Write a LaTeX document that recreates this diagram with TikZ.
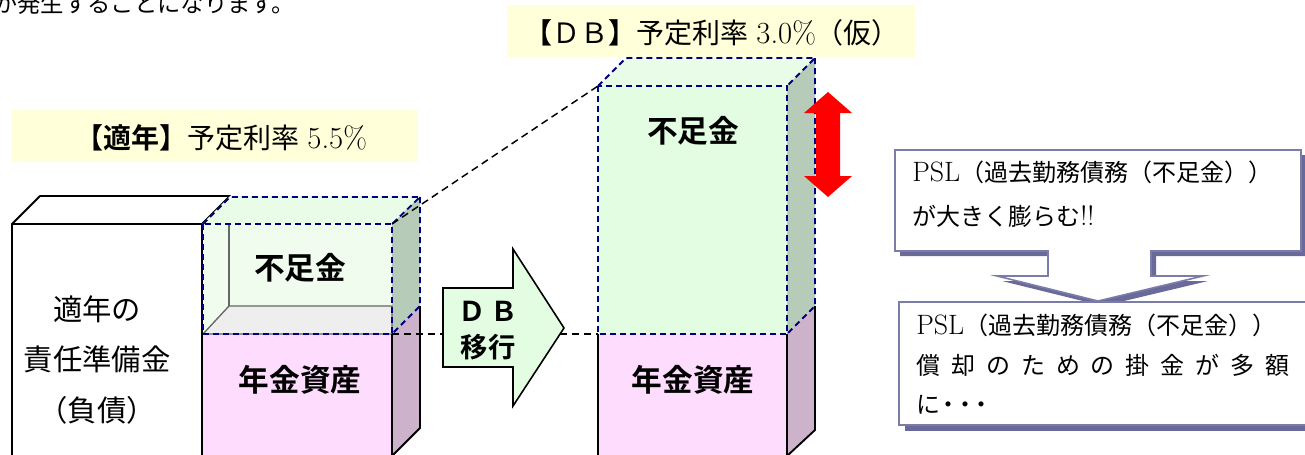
\documentclass[tikz,border=0pt]{standalone}
\usepackage{fontspec}
\newfontfamily\jp{Noto Sans CJK JP}[BoldFont={Noto Sans CJK JP Bold}]
\definecolor{lblyellow}{HTML}{FFFFD9}
\definecolor{greenA}{HTML}{F0FDEE}
\definecolor{greenB}{HTML}{E2FDE2}
\definecolor{greenTop}{HTML}{E9FCE7}
\definecolor{greenSide}{HTML}{B6CCB8}
\definecolor{pinkFront}{HTML}{FDDCFD}
\definecolor{pinkSide}{HTML}{CDB2CC}
\definecolor{floorGray}{HTML}{EEEEEE}
\definecolor{navyD}{HTML}{000080}
\definecolor{callBorder}{HTML}{7C7CAA}
\definecolor{callShadow}{HTML}{6A6A9A}
\definecolor{redArrow}{HTML}{FF0000}
\newcommand{\mydot}{\makebox[12.5pt]{・}}
\newcommand{\lmbig}[1]{{\rmfamily\fontsize{23}{27}\selectfont #1}}
\begin{document}
\begin{tikzpicture}[x=0.75pt,y=-0.75pt,
  lblbox/.style={fill=lblyellow,inner sep=0pt,minimum height=39pt},
  solidedge/.style={draw=black,line width=1.4pt,line join=round},
  navydash/.style={draw=navyD,line width=1.4pt,dash pattern=on 4.5pt off 3pt},
  blackdash/.style={draw=black,line width=1.1pt,dash pattern=on 5.5pt off 3.5pt},
  boxlabel/.style={font=\jp\bfseries\fontsize{23}{27}\selectfont,inner sep=0pt},
  calltext/.style={font=\jp\fontsize{18}{33}\selectfont,anchor=north west,align=left,inner sep=0pt},
  callshape/.style={fill=white,draw=callBorder,line width=1.2pt},
  callshadow/.style={fill=callShadow}]
\useasboundingbox (0,0) rectangle (1305,454);
\clip (0,0) rectangle (1305,454);

% intro text (cut at top)
\node[anchor=west,inner sep=0pt,font=\jp\fontsize{17.5}{20}\selectfont] (intro) at (-6,4) {が発生することになります。};

% labels
\node[lblbox,minimum width=304.5pt] (lbl1) at (215,136) {};
\node[inner sep=0pt,font=\fontsize{21}{24}\selectfont] (lbl1t) at (221,138) {{\jp\bfseries 【適年】}{\jp 予定利率} \lmbig{5.5\%}};
\node[lblbox,minimum width=306pt] (lbl2) at (711,31) {};
\node[inner sep=0pt,font=\fontsize{21}{24}\selectfont] (lbl2t) at (712,33) {{\jp\bfseries 【}{\jp ＤＢ}{\jp\bfseries 】}{\jp 予定利率} \lmbig{3.0\%}{\jp （仮）}};

% ---------- left liability box ----------
\draw[solidedge,fill=white] (12,470) -- (12,224) -- (202,224) -- (202,470);
\draw[solidedge,fill=white] (12,224) -- (40,196) -- (230,196) -- (202,224) -- cycle;
\node[font=\jp\fontsize{22}{38}\selectfont,align=center,inner sep=0pt] (liab) at (97,360) {適年の\\責任準備金\\（負債）};

% ---------- middle column ----------
\fill[pinkFront] (202,334) rectangle (392,470);
\fill[pinkSide] (392,334) -- (420,306) -- (420,428) -- (392,456) -- cycle;
\fill[greenA] (202,224) rectangle (392,334);
\fill[greenTop] (202,224) -- (230,196) -- (420,196) -- (392,224) -- cycle;
\fill[greenSide] (392,224) -- (420,196) -- (420,306) -- (392,334) -- cycle;
\draw[fill=floorGray,draw=gray!80!black,line width=1pt] (203,334) -- (229,306) -- (392,306) -- (392,334) -- cycle;
\draw[draw=gray!80!black,line width=1pt] (229,225) -- (229,306);
\draw[solidedge] (202,224) -- (202,470);
\draw[solidedge] (392,334) -- (392,470);
\draw[solidedge] (420,306) -- (420,428) -- (392,456);
\draw[navydash] (203,224) rectangle (392,334);
\draw[navydash] (203,224) -- (230,197) -- (420,197) -- (392,224);
\draw[navydash] (420,197) -- (420,306) -- (392,334);
\node[boxlabel] (short1) at (300,268) {不足金};
\node[boxlabel] (asset1) at (300,380) {年金資産};

% ---------- right column ----------
\fill[pinkFront] (598,334) rectangle (787,470);
\fill[pinkSide] (787,334) -- (815,306) -- (815,430) -- (787,456) -- cycle;
\fill[greenB] (598,86) rectangle (787,334);
\fill[greenTop] (598,86) -- (626,58) -- (815,58) -- (787,86) -- cycle;
\fill[greenSide] (787,86) -- (815,58) -- (815,306) -- (787,334) -- cycle;
\draw[solidedge] (598,334) -- (598,470);
\draw[solidedge] (787,334) -- (787,470);
\draw[solidedge] (815,306) -- (815,430) -- (787,456);
\draw[navydash] (598,86) rectangle (787,334);
\draw[navydash] (598,86) -- (626,58) -- (815,58) -- (787,86);
\draw[navydash] (815,58) -- (815,306) -- (787,334);
\node[boxlabel] (short2) at (693,131) {不足金};
\node[boxlabel] (asset2) at (693,380) {年金資産};

% ---------- dashed connectors ----------
\coordinate (c1a) at (392,224);
\coordinate (c1b) at (598,86);
\coordinate (c2a) at (392,334);
\coordinate (c2b) at (598,334);
\draw[blackdash] (c1a) -- (c1b);
\draw[blackdash] (c2a) -- (c2b);

% ---------- DB transition arrow ----------
\draw[fill=greenB,draw=black,line width=1.2pt,line join=miter]
  (443,288) -- (513,288) -- (513,249) -- (564,328) -- (513,406) -- (513,367) -- (443,367) -- cycle;
\node[font=\jp\bfseries\fontsize{20.5}{27}\selectfont,align=center,inner sep=0pt] (dbtext) at (488,331) {Ｄ\hspace{4pt}Ｂ\\移行};

% ---------- red double arrow ----------
\fill[redArrow] (828,92) -- (852,113) -- (840,113) -- (840,176) -- (852,176) -- (828,197)
  -- (804,176) -- (816,176) -- (816,113) -- (804,113) -- cycle;

% ---------- callout 1 ----------
\fill[callshadow,shift={(5,5)}] (895,150) -- (1301,150) -- (1301,251) -- (1151,251) -- (1151,276)
  -- (1203,276) -- (1098,301) -- (997,276) -- (1048,276) -- (1048,251) -- (895,251) -- cycle;
\draw[callshape] (895,150) -- (1301,150) -- (1301,251) -- (1151,251) -- (1151,276)
  -- (1203,276) -- (1098,301) -- (997,276) -- (1048,276) -- (1048,251) -- (895,251) -- cycle;
\node[calltext] (call1) at (912,161) {{\rmfamily\fontsize{21}{33}\selectfont PSL}（過去勤務債務（不足金））\\が大きく膨らむ{\rmfamily\fontsize{21}{33}\selectfont !!}};

% ---------- callout 2 ----------
\fill[callshadow] (905,308) rectangle (1330,431);
\draw[callshape] (899,302) rectangle (1325,425);
\node[calltext,font=\jp\fontsize{18}{29.5}\selectfont] (call2) at (916,314)
  {{\rmfamily\fontsize{21}{29.5}\selectfont PSL}（過去勤務債務（不足金））\\
   \makebox[280pt][s]{償\hfill 却\hfill の\hfill た\hfill め\hfill の\hfill 掛\hfill 金\hfill が\hfill 多\hfill 額}\\
   に\mydot\mydot\mydot};
\end{tikzpicture}
\end{document}
